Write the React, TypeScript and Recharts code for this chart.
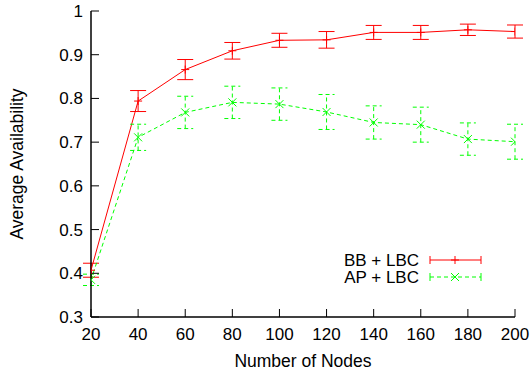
import { LineChart, Line, XAxis, YAxis, ErrorBar } from "recharts";

const nodes = [20, 40, 60, 80, 100, 120, 140, 160, 180, 200];
const bbLbc = [0.407, 0.794, 0.866, 0.909, 0.933, 0.934, 0.951, 0.951, 0.957, 0.953];
const bbErr = [0.016, 0.024, 0.023, 0.019, 0.016, 0.019, 0.016, 0.016, 0.013, 0.015];
const apLbc = [0.385, 0.711, 0.768, 0.791, 0.787, 0.769, 0.745, 0.74, 0.707, 0.701];
const apErr = [0.013, 0.03, 0.037, 0.037, 0.037, 0.04, 0.038, 0.04, 0.037, 0.04];
const yTicks = [0.3, 0.4, 0.5, 0.6, 0.7, 0.8, 0.9, 1];
const seriesNames = ["BB + LBC", "AP + LBC"];

const RED = "#ff0000";
const GREEN = "#00ff00";
const FONT = "'Liberation Sans', Arial, Helvetica, sans-serif";

const data = nodes.map((n, i) => ({
  n,
  bb: bbLbc[i],
  bbErr: bbErr[i],
  ap: apLbc[i],
  apErr: apErr[i],
}));

const PlusDot = (props: any) => {
  const { cx, cy, index } = props;
  if (cx == null || cy == null) return <g key={`p-${index}`} />;
  return (
    <g key={`p-${index}`} stroke={RED} strokeWidth={1}>
      <line x1={cx - 4} x2={cx + 4} y1={cy} y2={cy} />
      <line x1={cx} x2={cx} y1={cy - 4} y2={cy + 4} />
    </g>
  );
};

const CrossDot = (props: any) => {
  const { cx, cy, index } = props;
  if (cx == null || cy == null) return <g key={`x-${index}`} />;
  return (
    <g key={`x-${index}`} stroke={GREEN} strokeWidth={1}>
      <line x1={cx - 4} x2={cx + 4} y1={cy - 4} y2={cy + 4} />
      <line x1={cx - 4} x2={cx + 4} y1={cy + 4} y2={cy - 4} />
    </g>
  );
};

const XLabel = (props: any) => {
  const vb = props.viewBox;
  return (
    <text x={vb.x + vb.width / 2} y={vb.y + 50} textAnchor="middle" fontSize={17.5} fill="#000">
      Number of Nodes
    </text>
  );
};

const YLabel = (props: any) => {
  const vb = props.viewBox;
  const cy = vb.y + vb.height / 2;
  return (
    <text
      x={17}
      y={cy}
      transform={`rotate(-90 17 ${cy})`}
      textAnchor="middle"
      dominantBaseline="central"
      fontSize={17.5}
      fill="#000"
    >
      Average Availability
    </text>
  );
};

function LegendBox() {
  const rows = [
    { name: seriesNames[0], color: RED, dash: undefined, y: 260, marker: "plus" },
    { name: seriesNames[1], color: GREEN, dash: "4 3", y: 277, marker: "cross" },
  ];
  return (
    <svg
      width={532}
      height={374}
      style={{ position: "absolute", left: 0, top: 0, pointerEvents: "none" }}
    >
      {rows.map((r) => (
        <g key={r.name}>
          <text x={419} y={r.y + 6} textAnchor="end" fontSize={17} fill="#000" fontFamily={FONT}>
            {r.name}
          </text>
          <g stroke={r.color} strokeWidth={1}>
            <line x1={430} x2={481} y1={r.y} y2={r.y} strokeDasharray={r.dash} />
            <line x1={430} x2={430} y1={r.y - 4} y2={r.y + 4} />
            <line x1={481} x2={481} y1={r.y - 4} y2={r.y + 4} />
            {r.marker === "plus" ? (
              <>
                <line x1={451} x2={459} y1={r.y} y2={r.y} />
                <line x1={455} x2={455} y1={r.y - 4} y2={r.y + 4} />
              </>
            ) : (
              <>
                <line x1={451} x2={459} y1={r.y - 4} y2={r.y + 4} />
                <line x1={451} x2={459} y1={r.y + 4} y2={r.y - 4} />
              </>
            )}
          </g>
        </g>
      ))}
    </svg>
  );
}

export default function App() {
  const axisLine = { stroke: "#000", strokeWidth: 1.5 };
  const tickLine = { stroke: "#000", strokeWidth: 1 };
  const tickStyle = { fill: "#000", fontSize: 17 };
  return (
    <div
      style={{
        position: "absolute",
        left: 0,
        top: 0,
        width: 532,
        height: 374,
        background: "#fff",
        fontFamily: FONT,
      }}
    >
      <LineChart width={532} height={374} data={data} margin={{ top: 11, right: 17, left: 0, bottom: 0 }}>
        <XAxis
          dataKey="n"
          type="number"
          domain={[20, 200]}
          ticks={nodes}
          allowDataOverflow
          height={57}
          tickSize={-8}
          tickMargin={19}
          axisLine={axisLine}
          tickLine={tickLine}
          tick={tickStyle}
          label={<XLabel />}
        />
        <XAxis
          xAxisId="top"
          orientation="top"
          dataKey="n"
          type="number"
          domain={[20, 200]}
          ticks={nodes}
          height={0}
          tickSize={-8}
          tickFormatter={() => ""}
          axisLine={axisLine}
          tickLine={tickLine}
        />
        <YAxis
          type="number"
          domain={[0.3, 1]}
          ticks={yTicks}
          allowDataOverflow
          width={91}
          tickSize={-8}
          tickMargin={16}
          axisLine={axisLine}
          tickLine={tickLine}
          tick={tickStyle}
          tickFormatter={(v: number) => (v === 1 ? "1" : v.toFixed(1))}
          label={<YLabel />}
        />
        <YAxis
          yAxisId="right"
          orientation="right"
          type="number"
          domain={[0.3, 1]}
          ticks={yTicks}
          width={0}
          tickSize={-8}
          tickFormatter={() => ""}
          axisLine={axisLine}
          tickLine={tickLine}
        />
        <Line
          dataKey="bb"
          stroke={RED}
          strokeWidth={1}
          dot={PlusDot}
          activeDot={false}
          isAnimationActive={false}
        >
          <ErrorBar dataKey="bbErr" width={8} stroke={RED} strokeWidth={1} direction="y" isAnimationActive={false} />
        </Line>
        <Line
          dataKey="ap"
          stroke={GREEN}
          strokeWidth={1}
          strokeDasharray="4 3"
          dot={CrossDot}
          activeDot={false}
          isAnimationActive={false}
        >
          <ErrorBar
            dataKey="apErr"
            width={8}
            stroke={GREEN}
            strokeWidth={1}
            strokeDasharray="4 3"
            direction="y"
            isAnimationActive={false}
          />
        </Line>
      </LineChart>
      <LegendBox />
    </div>
  );
}
